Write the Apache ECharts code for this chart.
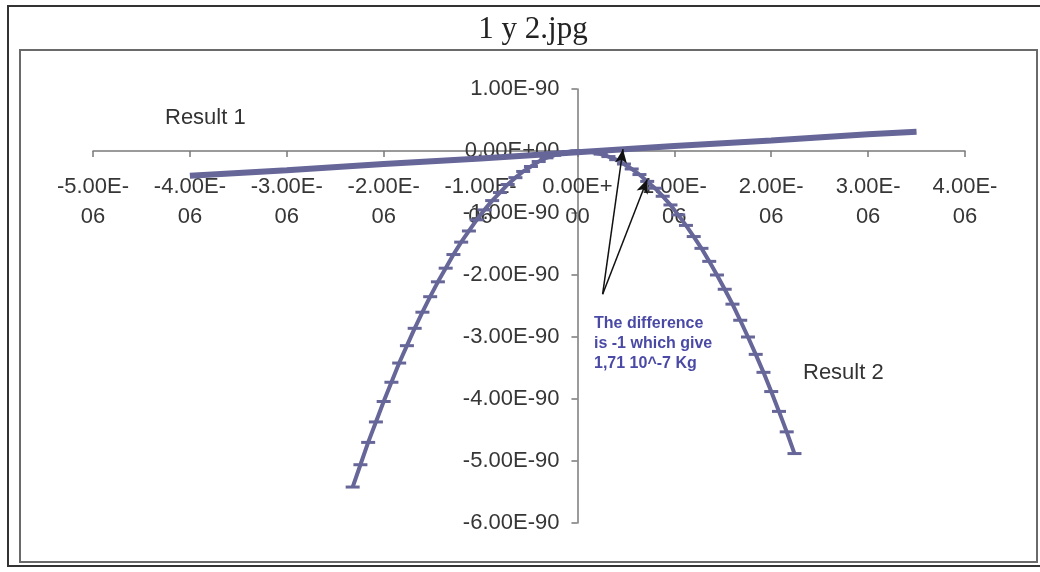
<!DOCTYPE html>
<html>
<head>
<meta charset="utf-8">
<title>1 y 2.jpg</title>
<script src="https://cdn.jsdelivr.net/npm/echarts@6/dist/echarts.min.js"></script>
<style>
  html, body { margin: 0; padding: 0; background: #ffffff; }
  #chart { width: 1040px; height: 572px; }
</style>
</head>
<body>
<div id="chart"></div>
<script>
// x values are in units of 1E-06, y values in units of 1E-90

// Result 1: straight line through the origin region
const result1X = [-4.0, -3.0, -2.0, -1.0, 0.0, 1.0, 2.0, 3.0, 3.5];
const result1Y = [-0.40, -0.31, -0.21, -0.12, -0.02, 0.08, 0.17, 0.27, 0.31];

// Result 2: downward parabola with a marker at every point
const result2X = [
  -2.32, -2.24, -2.16, -2.08, -2.00, -1.92, -1.84, -1.76, -1.68, -1.60,
  -1.52, -1.44, -1.36, -1.28, -1.20, -1.12, -1.04, -0.96, -0.88, -0.80,
  -0.72, -0.64, -0.56, -0.48, -0.40, -0.32, -0.24, -0.16, -0.08, 0.00,
  0.08, 0.16, 0.24, 0.32, 0.40, 0.48, 0.56, 0.64, 0.72, 0.80,
  0.88, 0.96, 1.04, 1.12, 1.20, 1.28, 1.36, 1.44, 1.52, 1.60,
  1.68, 1.76, 1.84, 1.92, 2.00, 2.08, 2.16, 2.24
];
const result2Y = [
  -5.42, -5.06, -4.70, -4.37, -4.04, -3.73, -3.42, -3.14, -2.86, -2.60,
  -2.35, -2.11, -1.89, -1.67, -1.47, -1.29, -1.11, -0.95, -0.80, -0.67,
  -0.54, -0.43, -0.33, -0.25, -0.17, -0.11, -0.07, -0.03, -0.01, 0.00,
  0.00, -0.02, -0.05, -0.09, -0.14, -0.21, -0.29, -0.38, -0.49, -0.60,
  -0.73, -0.87, -1.03, -1.20, -1.38, -1.57, -1.78, -2.00, -2.23, -2.47,
  -2.73, -3.00, -3.28, -3.57, -3.88, -4.20, -4.53, -4.88
];

// Axis ranges and tick labels
const xMin = -5, xMax = 4;
const yMin = -6, yMax = 1;
const xTickLabels = [
  '-5.00E-\n06', '-4.00E-\n06', '-3.00E-\n06', '-2.00E-\n06', '-1.00E-\n06',
  '0.00E+\n00', '1.00E-\n06', '2.00E-\n06', '3.00E-\n06', '4.00E-\n06'
];
const yTickLabels = [
  '-6.00E-90', '-5.00E-90', '-4.00E-90', '-3.00E-90',
  '-2.00E-90', '-1.00E-90', '0.00E+00', '1.00E-90'
];

// Annotation: arrows start at the note and point at both curves
const noteText = 'The difference\nis -1 which give\n1,71 10^-7 Kg';
const arrowStart = [0.26, -2.31];
const arrowEnds = [[0.47, 0.03], [0.72, -0.46]];

const lineColor = '#666699';
const axisColor = '#7a7a7a';
const labelColor = '#363636';

// Plot area; both axes cross at the origin, so shift them there from the grid edges
const W = 1040, H = 572;
const grid = { left: 93, right: 75, top: 89, bottom: 49 };
const plotW = W - grid.left - grid.right;
const plotH = H - grid.top - grid.bottom;
const xAxisOffset = -plotH * (0 - yMin) / (yMax - yMin);
const yAxisOffset = -plotW * (0 - xMin) / (xMax - xMin);

const chart = echarts.init(document.getElementById('chart'), null, { renderer: 'canvas' });

const pairs = (xs, ys) => xs.map((x, i) => [x, ys[i]]);

chart.setOption({
  animation: false,
  backgroundColor: '#ffffff',
  title: {
    text: '1 y 2.jpg',
    left: 528,
    top: 9,
    textAlign: 'center',
    textStyle: {
      fontFamily: 'Liberation Serif',
      fontWeight: 'normal',
      fontSize: 31,
      color: '#222222'
    }
  },
  grid: Object.assign({ containLabel: false, outerBoundsMode: 'none' }, grid),
  xAxis: {
    type: 'value',
    position: 'bottom',
    offset: xAxisOffset,
    min: xMin,
    max: xMax,
    interval: 1,
    splitLine: { show: false },
    axisLine: { onZero: false, lineStyle: { color: axisColor, width: 1.5 } },
    axisTick: { show: true, inside: false, length: 6, lineStyle: { color: axisColor, width: 1.5 } },
    axisLabel: {
      margin: 21,
      color: labelColor,
      fontFamily: 'Liberation Sans',
      fontSize: 22,
      lineHeight: 30,
      align: 'center',
      showMinLabel: true,
      showMaxLabel: true,
      hideOverlap: false,
      formatter: (v) => xTickLabels[Math.round(v - xMin)]
    }
  },
  yAxis: {
    type: 'value',
    position: 'left',
    offset: yAxisOffset,
    min: yMin,
    max: yMax,
    interval: 1,
    splitLine: { show: false },
    axisLine: { onZero: false, lineStyle: { color: axisColor, width: 1.5 } },
    axisTick: { show: true, inside: false, length: 6, lineStyle: { color: axisColor, width: 1.5 } },
    axisLabel: {
      margin: 18,
      color: labelColor,
      fontFamily: 'Liberation Sans',
      fontSize: 22,
      showMinLabel: true,
      showMaxLabel: true,
      hideOverlap: false,
      formatter: (v) => yTickLabels[Math.round(v - yMin)]
    }
  },
  series: [
    {
      name: 'Result 1',
      type: 'line',
      data: pairs(result1X, result1Y),
      showSymbol: false,
      symbol: 'none',
      lineStyle: { color: lineColor, width: 6 },
      itemStyle: { color: lineColor },
      z: 3
    },
    {
      name: 'Result 2',
      type: 'line',
      data: pairs(result2X, result2Y),
      symbol: 'rect',
      symbolSize: [14, 3],
      showAllSymbol: true,
      lineStyle: { color: lineColor, width: 4 },
      itemStyle: { color: lineColor },
      z: 4,
      markLine: {
        silent: true,
        symbol: ['none', 'arrow'],
        symbolSize: [9, 14],
        label: { show: false },
        lineStyle: { color: '#111111', width: 1.5, type: 'solid' },
        data: arrowEnds.map((end) => [
          { coord: arrowStart },
          { coord: end }
        ])
      }
    }
  ],
  graphic: [
    {
      type: 'rect',
      shape: { x: 8, y: 6, width: 1050, height: 560 },
      style: { fill: 'none', stroke: '#333333', lineWidth: 2 },
      silent: true,
      z: -10
    },
    {
      type: 'rect',
      shape: { x: 20, y: 50, width: 1017, height: 512 },
      style: { fill: 'none', stroke: '#6a6a6a', lineWidth: 2 },
      silent: true,
      z: -10
    },
    {
      type: 'text',
      left: 165,
      top: 107,
      style: {
        text: 'Result 1',
        fill: '#333333',
        font: '22px "Liberation Sans"'
      }
    },
    {
      type: 'text',
      left: 803,
      top: 362,
      style: {
        text: 'Result 2',
        fill: '#333333',
        font: '22px "Liberation Sans"'
      }
    },
    {
      type: 'text',
      left: 594,
      top: 314,
      style: {
        text: noteText,
        fill: '#4a4aa6',
        font: 'bold 16px "Liberation Sans"',
        lineHeight: 20
      }
    }
  ]
});
</script>
</body>
</html>
